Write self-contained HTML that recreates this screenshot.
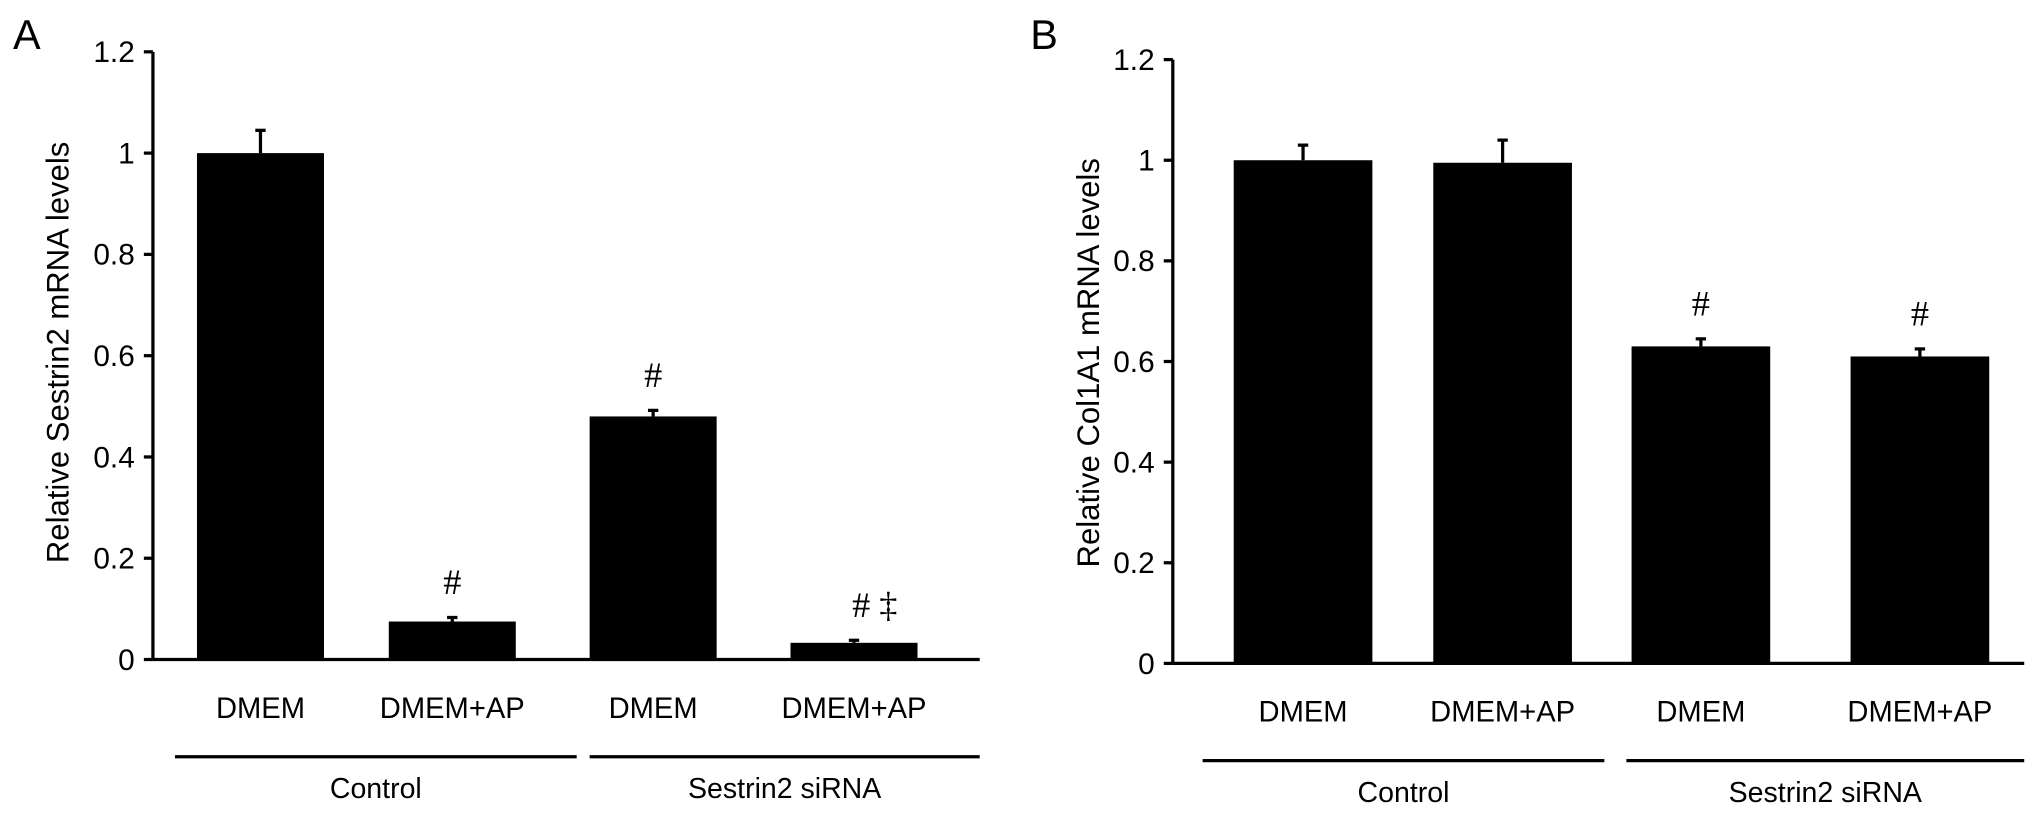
<!DOCTYPE html>
<html><head><meta charset="utf-8"><style>
html,body{margin:0;padding:0;background:#fff}
svg{display:block;font-family:"Liberation Sans",Arial,sans-serif}
</style></head><body>
<svg id="fig" width="2032" height="815" viewBox="0 0 1568 629" preserveAspectRatio="none"></svg>
<script>
const categories = ["DMEM","DMEM+AP","DMEM","DMEM+AP"];
const groups = ["Control","Sestrin2 siRNA"];
const ticks = [0,0.2,0.4,0.6,0.8,1,1.2];
const tickLabels = ["0","0.2","0.4","0.6","0.8","1","1.2"];
const valuesA = [1.0,0.075,0.48,0.033];
const errorsA = [0.045,0.008,0.012,0.005];
const marksA = ["","#","#","#  \u2021"];
const valuesB = [1.0,0.995,0.63,0.61];
const errorsB = [0.03,0.045,0.015,0.015];
const marksB = ["","","#","#"];

const NS="http://www.w3.org/2000/svg";
const svg=document.getElementById('fig');
function mk(tag,attrs,parent,text){const e=document.createElementNS(NS,tag);for(const k in attrs)e.setAttribute(k,attrs[k]);if(text!==undefined)e.textContent=text;(parent||svg).appendChild(e);return e;}

function panel(cfg){
  const g=mk('g',{});
  
  
  const y=v=>cfg.y0-(cfg.y0-cfg.yTop)*v/1.2;
  const lt=mk('text',{x:cfg.letterX,y:38,'font-size':32},g,cfg.letter);
  
  
  const ax=mk('line',{x1:cfg.ax,y1:y(1.2),x2:cfg.ax,y2:cfg.y0,stroke:'#000','stroke-width':2.5},g);
  
  
  ticks.forEach((t,i)=>{
    const tk=mk('line',{x1:cfg.ax-7,y1:y(t),x2:cfg.ax,y2:y(t),stroke:'#000','stroke-width':2.5},g);
    
    
    const tl=mk('text',{x:cfg.ax-14,y:y(t)+8,'font-size':23,'text-anchor':'end'},g,tickLabels[i]);
    
    
  });
  const yt=mk('text',{x:0,y:0,'font-size':24,'text-anchor':'middle',transform:`translate(${cfg.titleX},${cfg.titleY}) rotate(-90)`},g,cfg.title);
  
  
  cfg.values.forEach((v,i)=>{
    const x=cfg.barX[i], w=cfg.barW;
    const cx=x+w/2;
    const e=mk('line',{x1:cx,y1:y(v),x2:cx,y2:y(v+cfg.errors[i]),stroke:'#000','stroke-width':2.5},g);
    
    
    const c=mk('line',{x1:cx-4,y1:y(v+cfg.errors[i]),x2:cx+4,y2:y(v+cfg.errors[i]),stroke:'#000','stroke-width':2.5},g);
    
    
    const b=mk('rect',{x:x,y:y(v),width:w,height:cfg.y0-y(v),fill:'#000'},g);
    
    
    if(cfg.marks[i]){
      const m=mk('text',{x:cx+(cfg.marks[i].length>1?16:0),y:y(v+cfg.errors[i])-18,'font-size':28,'text-anchor':'middle','font-family':'"Liberation Serif",serif','xml:space':'preserve'},g,cfg.marks[i]);
      
      
    }
    const cl=mk('text',{x:cx,y:cfg.y0+45,'font-size':22.5,'text-anchor':'middle'},g,categories[i]);
    
    
  });
  const xa=mk('line',{x1:cfg.ax,y1:cfg.y0,x2:cfg.axEnd,y2:cfg.y0,stroke:'#000','stroke-width':2.5},g);
  
  
  cfg.groupLines.forEach((gl,i)=>{
    const l=mk('line',{x1:gl[0],y1:cfg.y0+75,x2:gl[1],y2:cfg.y0+75,stroke:'#000','stroke-width':2.5},g);
    
    
    const t=mk('text',{x:(gl[0]+gl[1])/2,y:cfg.y0+107,'font-size':22,'text-anchor':'middle'},g,groups[i]);
    
    
  });
}
panel({name:'panel-a',letter:'A',letterX:10,ax:118,axEnd:756,y0:509,yTop:40,values:valuesA,errors:errorsA,marks:marksA,
  barX:[152,300,455,610],barW:98,title:'Relative Sestrin2 mRNA levels',titleX:53,titleY:272,groupLines:[[135,445],[455,756]]});
panel({name:'panel-b',letter:'B',letterX:795,ax:905,axEnd:1562,y0:512,yTop:46,values:valuesB,errors:errorsB,marks:marksB,
  barX:[952,1106,1259,1428],barW:107,title:'Relative Col1A1 mRNA levels',titleX:848,titleY:280,groupLines:[[928,1238],[1255,1562]]});
</script>
</body></html>
